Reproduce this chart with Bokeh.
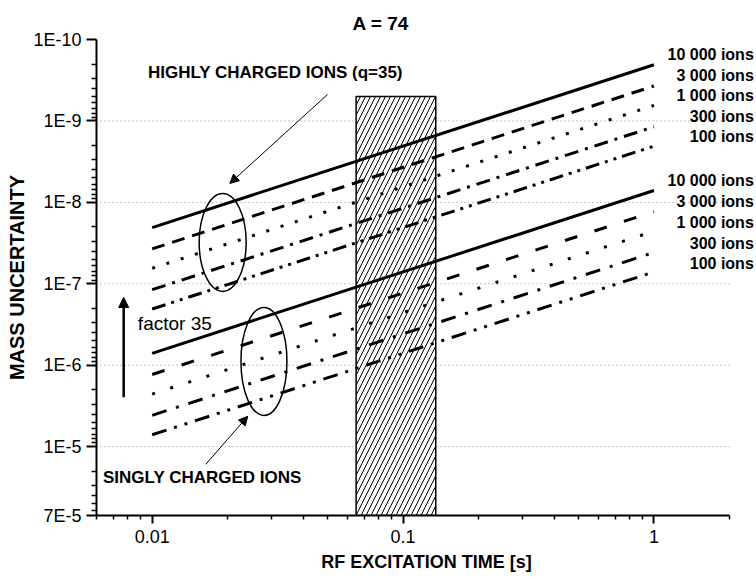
import math
from bokeh.plotting import figure
from bokeh.models import (Range1d, FixedTicker, CustomJSTickFormatter, Label,
                          Arrow, NormalHead)
from bokeh.embed import file_html
from bokeh.resources import INLINE

# ---- data -------------------------------------------------------------
times = [0.01, 1.0]                      # RF excitation time [s]
ion_labels = ["10 000 ions", "3 000 ions", "1 000 ions", "300 ions", "100 ions"]

# highly charged ions (q = 35): uncertainty at t = 0.01 s and t = 1 s
hci_start = [2.04e-8, 3.72e-8, 6.45e-8, 1.18e-7, 2.04e-7]
hci_end = [2.04e-10, 3.72e-10, 6.45e-10, 1.18e-9, 2.04e-9]
# singly charged ions
sci_start = [7.14e-7, 1.30e-6, 2.26e-6, 4.12e-6, 7.14e-6]
sci_end = [7.14e-9, 1.30e-8, 2.26e-8, 4.12e-8, 7.14e-8]

# accessible excitation window
window_t = [0.065, 0.135]
window_top = 5e-10

x_ticks = [0.01, 0.1, 1.0]
x_tick_labels = ["0.01", "0.1", "1"]
y_ticks = [1e-10, 1e-9, 1e-8, 1e-7, 1e-6, 1e-5, 7e-5]
y_tick_labels = ["1E-10", "1E-9", "1E-8", "1E-7", "1E-6", "1E-5", "7E-5"]
grid_levels = [1e-9, 1e-8, 1e-7, 1e-6, 1e-5]

X_AXIS = (0.006, 2.0)     # extent of the drawn time axis
FONT = "Liberation Sans"

# the frame runs a little past the axis end to leave room for the ion labels
p = figure(width=756, height=579, x_axis_type="log", y_axis_type="log",
           x_range=Range1d(X_AXIS[0], 2.563), y_range=Range1d(7e-5, 1e-10),
           output_backend="svg", toolbar_location=None,
           min_border_left=96, min_border_right=0,
           min_border_top=39, min_border_bottom=64)
p.outline_line_color = None
p.background_fill_color = "white"
p.border_fill_color = "white"

p.title.text = "A = 74"
p.title.align = "left"
p.title.offset = 256
p.title.text_font = FONT
p.title.text_font_size = "19px"
p.title.text_font_style = "bold"
p.title.text_color = "black"
p.title.standoff = 12

# ---- axes ------------------------------------------------------------
x_minor = [m * 10.0 ** e for e in (-3, -2, -1, 0) for m in range(2, 10)]
y_minor = [m * 10.0 ** e for e in range(-10, -4) for m in range(2, 10)]
p.xaxis.ticker = FixedTicker(ticks=x_ticks, minor_ticks=x_minor)
p.yaxis.ticker = FixedTicker(ticks=y_ticks, minor_ticks=y_minor)
p.xaxis.bounds = X_AXIS

fmt_code = """
let best = 0, bd = Infinity;
for (let i = 0; i < tvals.length; i++) {
  const d = Math.abs(Math.log10(tick) - Math.log10(tvals[i]));
  if (d < bd) { bd = d; best = i; }
}
return tlabels[best];
"""
p.xaxis.formatter = CustomJSTickFormatter(args=dict(tvals=x_ticks, tlabels=x_tick_labels), code=fmt_code)
p.yaxis.formatter = CustomJSTickFormatter(args=dict(tvals=y_ticks, tlabels=y_tick_labels), code=fmt_code)

for ax in (p.xaxis, p.yaxis):
    ax.axis_line_width = 2
    ax.axis_line_color = "black"
    ax.major_tick_line_width = 2
    ax.minor_tick_line_width = 1.5
    ax.major_tick_in = 0
    ax.minor_tick_in = 0
    ax.major_label_text_font = FONT
    ax.major_label_text_font_size = "18px"
    ax.major_label_text_color = "black"
    ax.axis_label_text_font = FONT
    ax.axis_label_text_font_style = "bold"
    ax.axis_label_text_color = "black"
p.xaxis.major_tick_out = 8
p.xaxis.minor_tick_out = 4
p.xaxis.major_label_standoff = 6
p.xaxis.axis_label = "RF EXCITATION TIME [s]"
p.xaxis.axis_label_text_font_size = "18px"
p.xaxis.axis_label_standoff = 6
p.yaxis.major_tick_out = 10
p.yaxis.minor_tick_out = 5
p.yaxis.major_label_standoff = 5
p.yaxis.axis_label = "MASS UNCERTAINTY"
p.yaxis.axis_label_text_font_size = "20px"
p.yaxis.axis_label_standoff = 2

p.xgrid.visible = False
p.ygrid.visible = False

# dotted reference lines at each decade, spanning the time axis only
p.multi_line(xs=[list(X_AXIS) for _ in grid_levels], ys=[[g, g] for g in grid_levels],
             line_color="#8c8c8c", line_dash="1 3", line_width=1)

# ---- hatched excitation window ---------------------------------------
p.quad(left=[window_t[0]], right=[window_t[1]], top=[window_top], bottom=[7e-5],
       fill_color="white", line_color="black", line_width=1.5,
       hatch_pattern="/", hatch_color="black", hatch_scale=10, hatch_weight=1)

# ---- uncertainty lines -----------------------------------------------
hci_dash = ["solid", "13 8", "3 12", "14 7 3 7", "14 6 3 6 3 6"]
sci_dash = ["solid", "13 18", "3 16", "15 10 3 10", "15 8 3 8 3 8"]
for i in range(len(ion_labels)):
    p.line(times, [hci_start[i], hci_end[i]], line_color="black",
           line_width=3, line_dash=hci_dash[i])
    p.line(times, [sci_start[i], sci_end[i]], line_color="black",
           line_width=3, line_dash=sci_dash[i])

# ellipses grouping the lines
p.ellipse(x=[0.0191, 0.0279], y=[3.10e-8, 8.97e-7], width=[47, 46], height=[98, 108],
          width_units="screen", height_units="screen",
          fill_color=None, line_color="black", line_width=1.5)

# ---- annotations -----------------------------------------------------
def add_label(x, y, text, size, bold=False, align="left"):
    p.add_layout(Label(x=x, y=y, text=text, text_font=FONT,
                       text_font_size=size,
                       text_font_style="bold" if bold else "normal",
                       text_align=align, text_baseline="middle",
                       text_color="black"))

add_label(0.00962, 2.54e-10, "HIGHLY CHARGED IONS (q=35)", "17px", bold=True)
add_label(0.00637, 2.40e-5, "SINGLY CHARGED IONS", "17px", bold=True)
add_label(0.00877, 3.05e-7, "factor 35", "19px")

hci_label_y = [1.53e-10, 2.77e-10, 4.87e-10, 8.81e-10, 1.55e-9]
sci_label_y = [5.37e-9, 9.73e-9, 1.76e-8, 3.18e-8, 5.60e-8]
for txt, yh, ys in zip(ion_labels, hci_label_y, sci_label_y):
    add_label(2.5, yh, txt, "16px", bold=True, align="right")
    add_label(2.5, ys, txt, "16px", bold=True, align="right")

p.add_layout(Arrow(end=NormalHead(size=9, fill_color="black", line_color="black", line_width=1),
                   x_start=0.0500, y_start=4.73e-10, x_end=0.0204, y_end=5.85e-9,
                   line_width=1, line_color="black"))
p.add_layout(Arrow(end=NormalHead(size=9, fill_color="black", line_color="black", line_width=1),
                   x_start=0.01637, y_start=1.64e-5, x_end=0.02404, y_end=4.23e-6,
                   line_width=1, line_color="black"))
p.add_layout(Arrow(end=NormalHead(size=10, fill_color="black", line_color="black", line_width=1),
                   x_start=0.0077, y_start=2.47e-6, x_end=0.0077, y_end=1.47e-7,
                   line_width=2.5, line_color="black"))

open("out.html", "w").write(file_html(p, INLINE))
